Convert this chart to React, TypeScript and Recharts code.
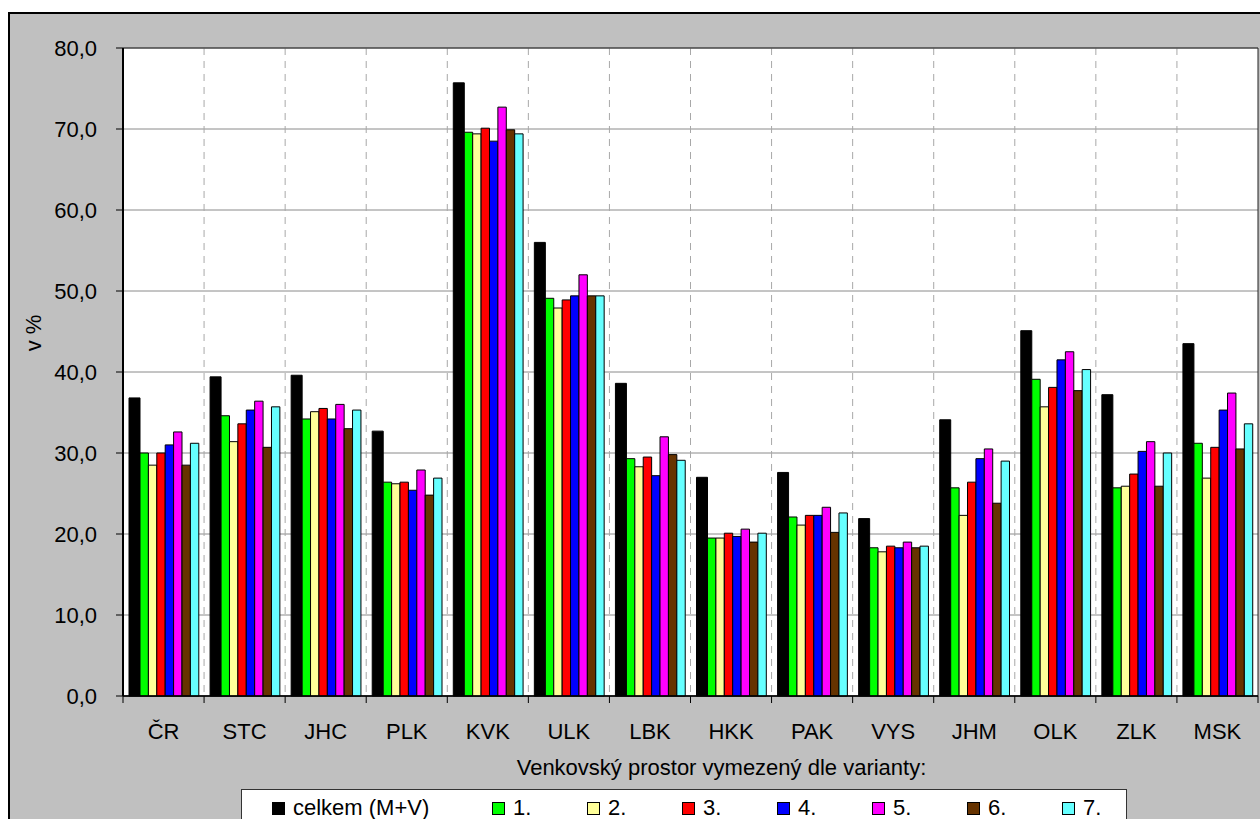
import React from 'react';
import { BarChart, Bar, XAxis, YAxis, CartesianGrid, ReferenceArea } from 'recharts';

// kraje
const regions = ['ČR', 'STC', 'JHC', 'PLK', 'KVK', 'ULK', 'LBK', 'HKK', 'PAK', 'VYS', 'JHM', 'OLK', 'ZLK', 'MSK'];

// podíl v % podle varianty vymezení
const celkem = [36.8, 39.4, 39.6, 32.7, 75.7, 56.0, 38.6, 27.0, 27.6, 21.9, 34.1, 45.1, 37.2, 43.5];
const var1 = [30.0, 34.6, 34.2, 26.4, 69.6, 49.1, 29.3, 19.5, 22.1, 18.3, 25.7, 39.1, 25.7, 31.2];
const var2 = [28.5, 31.4, 35.1, 26.2, 69.4, 47.9, 28.3, 19.5, 21.1, 17.8, 22.3, 35.7, 25.9, 26.9];
const var3 = [30.0, 33.6, 35.5, 26.4, 70.1, 48.9, 29.5, 20.1, 22.3, 18.5, 26.4, 38.1, 27.4, 30.7];
const var4 = [31.0, 35.3, 34.2, 25.4, 68.5, 49.4, 27.2, 19.7, 22.3, 18.3, 29.3, 41.5, 30.2, 35.3];
const var5 = [32.6, 36.4, 36.0, 27.9, 72.7, 52.0, 32.0, 20.6, 23.3, 19.0, 30.5, 42.5, 31.4, 37.4];
const var6 = [28.5, 30.7, 33.0, 24.8, 69.9, 49.4, 29.8, 19.0, 20.2, 18.3, 23.8, 37.7, 25.9, 30.5];
const var7 = [31.2, 35.7, 35.3, 26.9, 69.4, 49.4, 29.1, 20.1, 22.6, 18.5, 29.0, 40.3, 30.0, 33.6];

const yTicks = [0, 10, 20, 30, 40, 50, 60, 70, 80];

const SERIES = [
  { key: 'celkem', name: 'celkem (M+V)', color: '#000000', values: celkem },
  { key: 'v1', name: '1.', color: '#00FF00', values: var1 },
  { key: 'v2', name: '2.', color: '#FFFF99', values: var2 },
  { key: 'v3', name: '3.', color: '#FF0000', values: var3 },
  { key: 'v4', name: '4.', color: '#0000FF', values: var4 },
  { key: 'v5', name: '5.', color: '#FF00FF', values: var5 },
  { key: 'v6', name: '6.', color: '#663300', values: var6 },
  { key: 'v7', name: '7.', color: '#66FFFF', values: var7 },
];

const data = regions.map((r, i) => {
  const row: Record<string, any> = { region: r };
  SERIES.forEach(s => { row[s.key] = s.values[i]; });
  return row;
});

const FONT = '"Liberation Sans", Arial, sans-serif';
const FS = 22;
const PLOT_W = 1135;
const fmt = (v: number) => v.toFixed(1).replace('.', ',');

// Excel-like: vertical grid + tick marks on the category boundaries, not centres
const boundaryGrid = ({ offset }: any) =>
  regions.map((_, i) => offset.left + (offset.width * (i + 1)) / regions.length).slice(0, -1);

const CategoryTick = (props: any) => {
  const { x, y, payload, visibleTicksCount } = props;
  const step = PLOT_W / (visibleTicksCount || regions.length);
  const bx = x - step / 2;
  return (
    <g>
      <line x1={bx} y1={y - 20} x2={bx} y2={y - 13} stroke="#000" />
      {payload.index === regions.length - 1 && <line x1={bx + step} y1={y - 20} x2={bx + step} y2={y - 13} stroke="#000" />}
      <text x={x} y={y + 23} textAnchor="middle" fontSize={FS} fontFamily={FONT} fill="#000">{payload.value}</text>
    </g>
  );
};

const YLabel = ({ viewBox }: any) => {
  const x = viewBox.x + 33;
  const y = viewBox.y + viewBox.height / 2 - 39;
  return (
    <text x={x} y={y} transform={`rotate(-90 ${x} ${y})`} textAnchor="middle" dominantBaseline="central"
      fontSize={FS} fontFamily={FONT} fill="#000">v %</text>
  );
};

const App: React.FC = () => {
  return (
    <div>
      <style>{'body{margin:0;overflow:hidden;}'}</style>
      <div style={{ position: 'absolute', left: 8, top: 12, width: 1300, height: 860, background: '#C0C0C0', borderLeft: '2px solid #000', borderTop: '2px solid #000', boxSizing: 'border-box' }} />
      <div style={{ position: 'absolute', left: 0, top: 0 }}>
        <BarChart width={1260} height={819} data={data} margin={{ top: 48, right: 2, bottom: 63, left: 0 }}
          barGap={0} barCategoryGap={0}>
          <CartesianGrid fill="#FFFFFF" vertical={false} stroke="#8A8A8A" strokeWidth={1} />
          <CartesianGrid horizontal={false} stroke="#A8A8A8" strokeDasharray="7 6"
            verticalCoordinatesGenerator={boundaryGrid} />
          <XAxis dataKey="region" height={60} tickLine={false} axisLine={{ stroke: '#000', strokeWidth: 1.5 }}
            tickSize={0} tickMargin={20} interval={0} tick={<CategoryTick />}
            label={{ value: 'Venkovský prostor vymezený dle varianty:', position: 'insideBottom', dx: 31, offset: -19, fontSize: FS, fontFamily: FONT, fill: '#000' }} />
          <YAxis domain={[0, 80]} ticks={yTicks} width={123} tickFormatter={fmt} tickSize={7} tickMargin={19}
            tick={{ fontSize: FS, fontFamily: FONT, fill: '#000' }} tickLine={{ stroke: '#000' }}
            axisLine={{ stroke: '#000', strokeWidth: 2 }} label={<YLabel />} />
          {SERIES.map(s => (
            <Bar key={s.key} dataKey={s.key} name={s.name} fill={s.color} stroke="#000" strokeWidth={1}
              barSize={s.key === 'celkem' ? 11 : 8.4} isAnimationActive={false} />
          ))}
          <ReferenceArea y1={0} y2={80} fill="none" stroke="#222" strokeWidth={1} ifOverflow="visible" />
        </BarChart>
      </div>
      <div style={{ position: 'absolute', left: 241, top: 789, width: 886, height: 60, background: '#FFFFFF', border: '1px solid #333', boxSizing: 'border-box', paddingLeft: 30, paddingTop: 5, display: 'flex', alignItems: 'flex-start', fontFamily: FONT, fontSize: FS, lineHeight: '26px' }}>
        {SERIES.map((s, i) => (
          <div key={s.key} style={{ width: i === 0 ? 220 : 95, height: 26, display: 'flex', alignItems: 'center', flex: 'none' }}>
            <span style={{ width: 11, height: 11, background: s.color, border: '1px solid #000', marginRight: 8, flex: 'none' }} />
            <span>{s.name}</span>
          </div>
        ))}
      </div>
    </div>
  );
};

export default App;
